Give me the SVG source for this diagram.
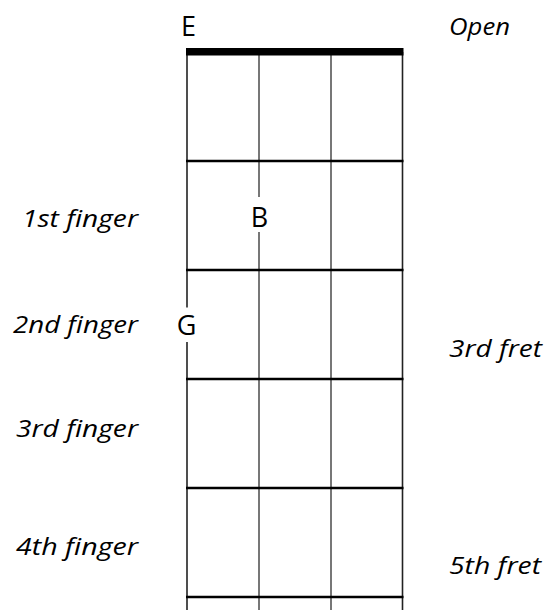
<svg xmlns="http://www.w3.org/2000/svg" width="548" height="610" viewBox="0 0 548 610">
<style>
.str{stroke:#222;stroke-width:1.6;fill:none}
.istr{stroke:#555;stroke-width:1.6;fill:none}
.fret{stroke:#000;stroke-width:2.6;fill:none}
.note{font-family:"Open Sans","Noto Sans","DejaVu Sans",sans-serif;font-size:27px;fill:#000}
.lbl{font-family:"Open Sans","DejaVu Sans",sans-serif;font-style:italic;font-size:23px;fill:#000}
.bg{fill:#fff}
</style>
<rect width="548" height="610" fill="#fff"/>
<g id="connectors">
<line class="str" x1="187" y1="52" x2="187" y2="610"/>
<line class="istr" x1="259" y1="52" x2="259" y2="610"/>
<line class="istr" x1="331" y1="52" x2="331" y2="610"/>
<line class="str" x1="402.5" y1="52" x2="402.5" y2="610"/>
<line class="fret" x1="186" y1="161" x2="403.5" y2="161"/>
<line class="fret" x1="186" y1="270" x2="403.5" y2="270"/>
<line class="fret" x1="186" y1="379" x2="403.5" y2="379"/>
<line class="fret" x1="186" y1="488" x2="403.5" y2="488"/>
<line class="fret" x1="186" y1="597" x2="403.5" y2="597"/>
<rect x="186" y="48" width="217.5" height="7.5" fill="#000"/>
</g>
<g id="note-E"><text class="note" x="188.5" y="35.5" text-anchor="middle">E</text></g>
<g id="note-B"><rect class="bg" x="246" y="197" width="26" height="35"/><text class="note" x="259.5" y="226.5" text-anchor="middle">B</text></g>
<g id="note-G"><rect class="bg" x="174" y="307.5" width="26" height="34.5"/><text class="note" x="186.5" y="335" text-anchor="middle">G</text></g>
<g id="label-open"><text class="lbl" x="449" y="35" textLength="61" lengthAdjust="spacingAndGlyphs">Open</text></g>
<g id="label-f1"><text class="lbl" x="22" y="227" textLength="116" lengthAdjust="spacingAndGlyphs">1st finger</text></g>
<g id="label-f2"><text class="lbl" x="13" y="333" textLength="125" lengthAdjust="spacingAndGlyphs">2nd finger</text></g>
<g id="label-f3"><text class="lbl" x="16" y="437" textLength="122" lengthAdjust="spacingAndGlyphs">3rd finger</text></g>
<g id="label-f4"><text class="lbl" x="16" y="555" textLength="122" lengthAdjust="spacingAndGlyphs">4th finger</text></g>
<g id="label-fret3"><text class="lbl" x="449" y="357" textLength="93" lengthAdjust="spacingAndGlyphs">3rd fret</text></g>
<g id="label-fret5"><text class="lbl" x="449" y="574" textLength="92" lengthAdjust="spacingAndGlyphs">5th fret</text></g>
</svg>
